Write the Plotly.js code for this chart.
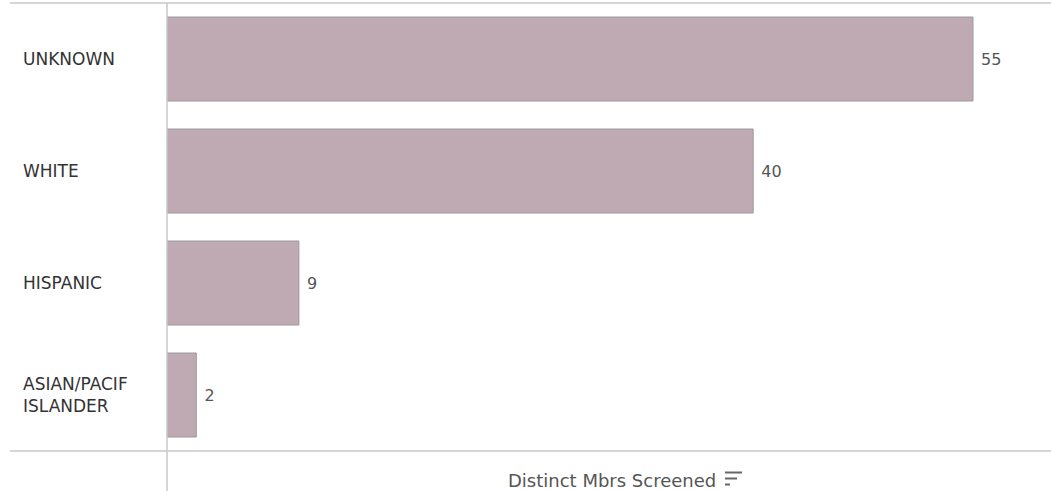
<!DOCTYPE html>
<html>
<head>
<meta charset="utf-8">
<script src="https://cdn.plot.ly/plotly-3.0.1.min.js"></script>
<style>html,body{margin:0;padding:0;background:#fff;}#chart{width:1051px;height:491px;}</style>
</head>
<body>
<div id="chart"></div>
<script>
var categories = ["UNKNOWN", "WHITE", "HISPANIC", "ASIAN/PACIF<br>ISLANDER"];
var values = [55, 40, 9, 2];
var axisTitle = "Distinct Mbrs Screened";

var FONT = "DejaVu Sans, Verdana, sans-serif";
var L = 167, W = 1051, H = 491, T = 3, B = 40;
var pw = W - L, ph = H - T - B;
function px(x){ return (x - L) / pw; }
function py(y){ return (H - B - y) / ph; }

var trace = {
  type: "bar",
  orientation: "h",
  x: values,
  y: categories,
  text: values.map(function(v){ return " " + v; }),
  textposition: "outside",
  cliponaxis: false,
  textfont: {family: FONT, size: 16, color: "#555555"},
  marker: {color: "#bfaab4", line: {color: "#9a9a9a", width: 1}},
  hoverinfo: "none"
};

var annotations = categories.map(function(c){
  return {xref: "paper", yref: "y", x: px(21), y: c, xanchor: "left", yanchor: "middle",
    text: c, showarrow: false, align: "left", font: {family: FONT, size: 17, color: "#333333"}};
});
annotations.push({xref: "paper", yref: "paper", x: px(612), y: py(480), xanchor: "center", yanchor: "middle",
  text: axisTitle, showarrow: false, font: {family: FONT, size: 18, color: "#555555"}});

var lc = "#c8c8c8";
var shapes = [
  {type: "line", xref: "paper", yref: "paper", x0: px(10), x1: 1, y0: 1, y1: 1, line: {color: lc, width: 1.5}},
  {type: "line", xref: "paper", yref: "paper", x0: px(10), x1: 1, y0: 0, y1: 0, line: {color: lc, width: 1.5}},
  {type: "line", xref: "paper", yref: "paper", x0: 0, x1: 0, y0: 1, y1: py(491), line: {color: lc, width: 1.5}},
  {type: "line", xref: "paper", yref: "paper", x0: px(725), x1: px(742), y0: py(472.5), y1: py(472.5), line: {color: "#666", width: 2}},
  {type: "line", xref: "paper", yref: "paper", x0: px(725), x1: px(737), y0: py(478.5), y1: py(478.5), line: {color: "#666", width: 2}},
  {type: "line", xref: "paper", yref: "paper", x0: px(725), x1: px(730), y0: py(484.5), y1: py(484.5), line: {color: "#666", width: 2}}
];

var layout = {
  width: W, height: H,
  margin: {l: L, r: 0, t: T, b: B, pad: 0},
  paper_bgcolor: "#ffffff", plot_bgcolor: "#ffffff",
  showlegend: false,
  bargap: 0.25,
  xaxis: {range: [0, pw / (806 / 55)], showgrid: false, zeroline: false, showticklabels: false, showline: false, ticks: ""},
  yaxis: {autorange: "reversed", showgrid: false, zeroline: false, showticklabels: false, showline: false, ticks: "", categoryorder: "array", categoryarray: categories},
  annotations: annotations,
  shapes: shapes
};

Plotly.newPlot("chart", [trace], layout, {displayModeBar: false, staticPlot: true});
</script>
</body>
</html>
